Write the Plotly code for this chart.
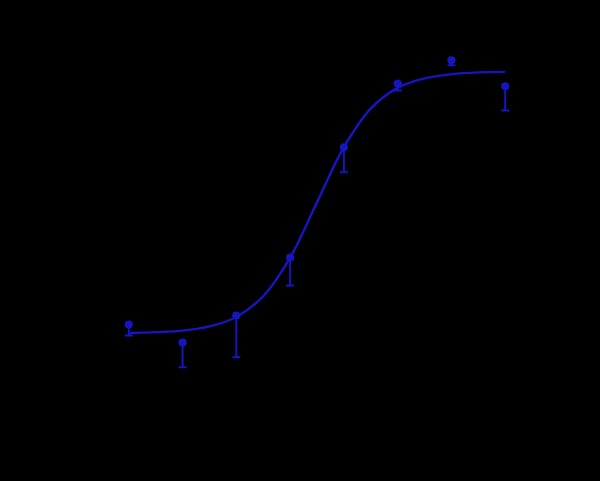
import plotly.graph_objects as go

# Data points (log concentration, % response, lower SEM)
log_conc = [-10.0, -9.5, -9.0, -8.5, -8.0, -7.5, -7.0, -6.5]
response = [3.4, -3.4, 6.9, 29.0, 71.0, 95.4, 104.2, 94.3]
err_low = [4.2, 9.5, 16.0, 10.7, 9.5, 2.7, 1.9, 9.2]
err_up = [0, 0, 0, 0, 0, 0, 0, 0]

# Fitted curve
curve_x = [-10.0, -9.75, -9.5, -9.25, -9.0, -8.75, -8.5, -8.25, -8.0,
           -7.75, -7.5, -7.25, -7.0, -6.75, -6.5]
curve_y = [0.2, 0.5, 1.1, 2.7, 6.3, 14.2, 28.9, 50.0, 71.1,
           85.8, 93.7, 97.3, 98.9, 99.6, 99.8]

blue = "#1616c0"

fig = go.Figure()
fig.add_trace(go.Scatter(
    x=curve_x, y=curve_y, mode="lines",
    line=dict(color=blue, width=2.4, shape="spline", smoothing=1.0),
    hoverinfo="skip", showlegend=False))
fig.add_trace(go.Scatter(
    x=log_conc, y=response, mode="markers",
    marker=dict(color=blue, size=8, symbol="circle"),
    error_y=dict(type="data", symmetric=False, array=err_up, arrayminus=err_low,
                 color=blue, thickness=2, width=4),
    showlegend=False))

fig.update_layout(
    width=600, height=481,
    paper_bgcolor="black", plot_bgcolor="black",
    margin=dict(l=75, r=41, t=32, b=82),
    xaxis=dict(range=[-10.5, -6.0], showgrid=False, zeroline=False,
               showline=True, linecolor="black", tickfont=dict(color="black"),
               title=dict(text="log[Agonist] (M)", font=dict(color="black"))),
    yaxis=dict(range=[-25, 115], showgrid=False, zeroline=False,
               showline=True, linecolor="black", tickfont=dict(color="black"),
               title=dict(text="Response (%)", font=dict(color="black"))),
)

fig.write_html("out.html",
               config={"displayModeBar": False},
               post_script="document.body.style.margin='0';document.body.style.background='black';")
